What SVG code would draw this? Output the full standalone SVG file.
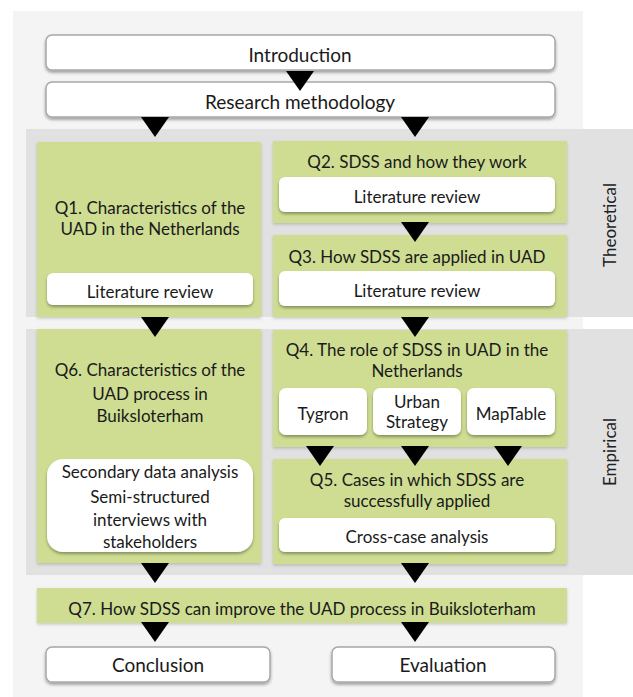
<svg xmlns="http://www.w3.org/2000/svg" width="633" height="697" viewBox="0 0 633 697">
<defs>
<filter id="sh" x="-10%" y="-20%" width="120%" height="150%">
<feDropShadow dx="0" dy="2" stdDeviation="1.5" flood-color="#000" flood-opacity="0.35"/>
</filter>
<filter id="gsh" x="-10%" y="-10%" width="120%" height="120%">
<feDropShadow dx="0" dy="1.5" stdDeviation="1.5" flood-color="#000" flood-opacity="0.18"/>
</filter>
<path id="tri" d="M-14,0 L14,0 L0,20 Z"/>
</defs>
<style>
text{font-family:Lato,"Noto Sans","Liberation Sans",sans-serif;font-size:17px;fill:#1a1a1a;text-anchor:middle}
.big{font-size:19px}
.wb{fill:#fff;stroke:#a8a8a8;stroke-width:1.5;filter:url(#sh)}
.ib{fill:#fff;filter:url(#sh)}
.g{fill:#cedd92;filter:url(#gsh)}
.band{fill:#e1e1e1}
.side{font-size:17px;fill:#222}
</style>
<rect x="13" y="11" width="570" height="686" fill="#f4f4f4"/>
<rect class="band" x="26" y="129" width="607" height="188"/>
<rect class="band" x="26" y="329" width="607" height="246"/>
<text class="side" transform="translate(616,225) rotate(-90)">Theoretical</text>
<text class="side" transform="translate(616,452) rotate(-90)">Empirical</text>

<g id="introduction">
<rect class="wb" x="46" y="35" width="509" height="35" rx="6"/>
<text class="big" x="300" y="62">Introduction</text>
</g>
<g id="research-methodology">
<rect class="wb" x="46" y="82" width="509" height="35" rx="6"/>
<text class="big" x="300" y="109">Research methodology</text>
</g>
<g id="q1">
<rect class="g" x="37" y="142" width="224" height="175"/>
<text x="150" y="214">Q1. Characteristics of the</text>
<text x="150" y="235">UAD in the Netherlands</text>
<rect class="ib" x="47" y="273" width="206" height="32" rx="6"/>
<text x="150" y="298">Literature review</text>
</g>
<g id="q2">
<rect class="g" x="273" y="141" width="294" height="82"/>
<text x="417" y="168">Q2. SDSS and how they work</text>
<rect class="ib" x="279" y="177" width="276" height="35" rx="6"/>
<text x="417" y="203">Literature review</text>
</g>
<g id="q3">
<rect class="g" x="273" y="235" width="294" height="82"/>
<text x="417" y="263">Q3. How SDSS are applied in UAD</text>
<rect class="ib" x="279" y="271" width="276" height="35" rx="6"/>
<text x="417" y="297">Literature review</text>
</g>
<g id="q6">
<rect class="g" x="37" y="329" width="224" height="234"/>
<text x="150" y="376">Q6. Characteristics of the</text>
<text x="150" y="400">UAD process in</text>
<text x="150" y="422">Buiksloterham</text>
<rect class="ib" x="47" y="459" width="206" height="93" rx="16"/>
<text x="150" y="478">Secondary data analysis</text>
<text x="150" y="503">Semi-structured</text>
<text x="150" y="526">interviews with</text>
<text x="150" y="548">stakeholders</text>
</g>
<g id="q4">
<rect class="g" x="273" y="330" width="294" height="117"/>
<text x="417" y="356">Q4. The role of SDSS in UAD in the</text>
<text x="417" y="377">Netherlands</text>
</g>
<g id="tygron">
<rect class="ib" x="279" y="388" width="88" height="47" rx="7"/>
<text x="323" y="420">Tygron</text>
</g>
<g id="urban-strategy">
<rect class="ib" x="373" y="388" width="88" height="47" rx="7"/>
<text x="417" y="408">Urban</text>
<text x="417" y="428">Strategy</text>
</g>
<g id="maptable">
<rect class="ib" x="467" y="388" width="88" height="47" rx="7"/>
<text x="511" y="420">MapTable</text>
</g>
<g id="q5">
<rect class="g" x="273" y="459" width="294" height="105"/>
<text x="417" y="486">Q5. Cases in which SDSS are</text>
<text x="417" y="507">successfully applied</text>
<rect class="ib" x="279" y="518" width="276" height="34" rx="6"/>
<text x="417" y="543">Cross-case analysis</text>
</g>
<g id="q7">
<rect class="g" x="37" y="588" width="530" height="35"/>
<text x="302" y="615">Q7. How SDSS can improve the UAD process in Buiksloterham</text>
</g>
<g id="conclusion">
<rect class="wb" x="46" y="647" width="224" height="35" rx="6"/>
<text class="big" x="158" y="672">Conclusion</text>
</g>
<g id="evaluation">
<rect class="wb" x="332" y="647" width="223" height="35" rx="6"/>
<text class="big" x="443" y="672">Evaluation</text>
</g>

<g id="connectors" fill="#000">
<use href="#tri" x="300" y="71"/>
<use href="#tri" x="155" y="117"/>
<use href="#tri" x="415" y="117"/>
<use href="#tri" x="415" y="222"/>
<use href="#tri" x="155" y="317"/>
<use href="#tri" x="415" y="317"/>
<use href="#tri" x="320" y="446"/>
<use href="#tri" x="415" y="446"/>
<use href="#tri" x="508" y="446"/>
<use href="#tri" x="155" y="563"/>
<use href="#tri" x="415" y="563"/>
<use href="#tri" x="155" y="622"/>
<use href="#tri" x="415" y="622"/>
</g>
</svg>
